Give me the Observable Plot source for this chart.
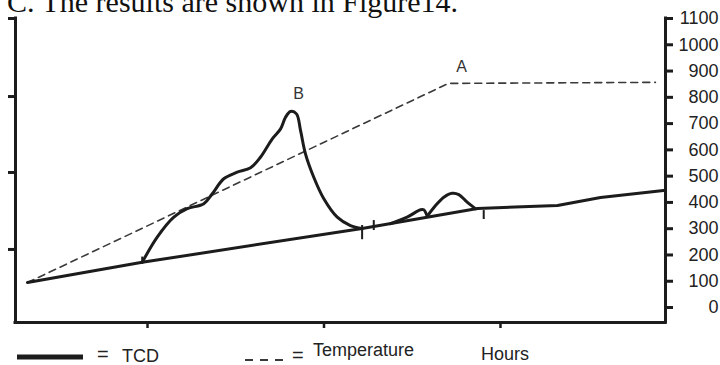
<!DOCTYPE html>
<html>
<head>
<meta charset="utf-8">
<script src="https://cdn.jsdelivr.net/npm/d3@7"></script>
<script src="https://cdn.jsdelivr.net/npm/@observablehq/plot@0.6"></script>
<style>
  body { margin: 0; background: #fff; }
  #chart { width: 720px; height: 365px; overflow: hidden; }
</style>
</head>
<body>
<div id="chart"></div>
<script>
// Axis settings
const hoursDomain = [0.252, 3.935];
const valueDomain = [-57, 1100];
const hourTicks = [1, 2, 3];
const rightTicks = [0, 100, 200, 300, 400, 500, 600, 700, 800, 900, 1000, 1100];
const leftTicks = [221, 514, 803, 1100];

// Temperature programme (dashed)
const tempHours = [0.320, 2.705, 3.878];
const tempValues = [95, 853, 857];

// TCD baseline (solid)
const baseHours = [0.320, 0.970, 2.216, 2.870, 3.323, 3.567, 3.924];
const baseValues = [95, 172, 301, 377, 388, 419, 445];

// Main TCD peak B
const peakHours = [0.970, 1.055, 1.149, 1.225, 1.319, 1.367, 1.432, 1.508, 1.584, 1.640, 1.707,
                   1.754, 1.782, 1.810, 1.844, 1.867, 1.895, 1.942, 1.999, 2.075, 2.150, 2.216];
const peakValues = [172, 268, 344, 376, 395, 433, 490, 515, 532, 572, 642,
                    680, 724, 746, 737, 674, 585, 496, 414, 344, 312, 301];

// Small TCD peaks after the main one
const bumpHours = [2.377, 2.471, 2.547, 2.565, 2.585,
                   2.585, 2.632, 2.679, 2.726, 2.764, 2.811, 2.858];
const bumpValues = [319, 344, 372, 372, 347,
                    347, 388, 420, 435, 430, 401, 376];
const bumpGroup = [1, 1, 1, 1, 1, 2, 2, 2, 2, 2, 2, 2];

// Short markers on the baseline
const markHours = [0.970, 2.216, 2.282, 2.905];
const markLow = [168, 258, 293, 335];
const markHigh = [192, 312, 331, 369];

// Point labels
const labelText = ["A", "B"];
const labelHours = [2.779, 1.856];
const labelValues = [914, 815];

const ink = "#1c1c1c";

const temp = tempHours.map((h, i) => ({h, v: tempValues[i]}));
const base = baseHours.map((h, i) => ({h, v: baseValues[i]}));
const peak = peakHours.map((h, i) => ({h, v: peakValues[i]}));
const bumps = bumpHours.map((h, i) => ({h, v: bumpValues[i], g: bumpGroup[i]}));
const marks = markHours.map((h, i) => ({h, lo: markLow[i], hi: markHigh[i]}));
const labels = labelText.map((t, i) => ({t, h: labelHours[i], v: labelValues[i]}));

const chart = Plot.plot({
  width: 720,
  height: 365,
  marginLeft: 15,
  marginRight: 55,
  marginTop: 18,
  marginBottom: 43,
  x: {domain: hoursDomain, label: null},
  y: {domain: valueDomain, label: null},
  style: {fontFamily: "'Liberation Sans', Arial, sans-serif", fontSize: "18px", color: "#222", background: "#fff"},
  marks: [
    // frame: left, right and bottom lines
    Plot.ruleX(hoursDomain, {stroke: ink, strokeWidth: 3, strokeLinecap: "square"}),
    Plot.ruleY([valueDomain[0]], {stroke: ink, strokeWidth: 3, strokeLinecap: "square"}),
    Plot.axisX({ticks: hourTicks, tickSize: 6, tickFormat: () => "", stroke: ink, strokeWidth: 2.5, label: null}),
    Plot.axisY({anchor: "left", ticks: leftTicks, tickSize: 7, tickFormat: () => "", stroke: ink, strokeWidth: 3, label: null}),
    Plot.axisY({anchor: "right", ticks: rightTicks, tickSize: 7, tickFormat: () => "", stroke: ink, strokeWidth: 3, label: null}),
    Plot.text(rightTicks, {y: d => d, text: d => String(d), frameAnchor: "right", dx: 53, textAnchor: "end", fontSize: 18, fill: "#222"}),
    // temperature programme
    Plot.line(temp, {x: "h", y: "v", stroke: "#3a3a3a", strokeWidth: 1.6, strokeDasharray: "7,5"}),
    // TCD signal
    Plot.line(base, {x: "h", y: "v", stroke: ink, strokeWidth: 3, strokeLinejoin: "round"}),
    Plot.line(peak, {x: "h", y: "v", stroke: ink, strokeWidth: 3, curve: "catmull-rom"}),
    Plot.line(bumps, {x: "h", y: "v", z: "g", stroke: ink, strokeWidth: 3, curve: "catmull-rom"}),
    Plot.ruleX(marks, {x: "h", y1: "lo", y2: "hi", stroke: ink, strokeWidth: 2}),
    Plot.text(labels, {x: "h", y: "v", text: "t", fontSize: 16, fill: "#333"})
  ]
});

// heading line above the plot and legend below it
const svg = d3.select(chart);
svg.append("text")
  .attr("x", 7).attr("y", 11.5)
  .attr("text-anchor", "start")
  .attr("font-family", "'Liberation Serif', 'Times New Roman', serif")
  .attr("font-size", 30).attr("fill", "#111")
  .text("C. The results are shown in Figure14.");

const legend = svg.append("g")
  .attr("text-anchor", "start")
  .attr("font-family", "'Liberation Sans', Arial, sans-serif")
  .attr("fill", "#222");
legend.append("line").attr("x1", 17).attr("x2", 83).attr("y1", 357).attr("y2", 357)
  .attr("stroke", ink).attr("stroke-width", 5);
legend.append("text").attr("x", 97).attr("y", 361).attr("font-size", 20).text("=");
legend.append("text").attr("x", 122).attr("y", 362).attr("font-size", 18).text("TCD");
legend.append("line").attr("x1", 245).attr("x2", 283).attr("y1", 360).attr("y2", 360)
  .attr("stroke", "#3a3a3a").attr("stroke-width", 2).attr("stroke-dasharray", "8,7");
legend.append("text").attr("x", 292).attr("y", 362).attr("font-size", 20).text("=");
legend.append("text").attr("x", 313).attr("y", 356).attr("font-size", 18).text("Temperature");
legend.append("text").attr("x", 481).attr("y", 360).attr("font-size", 18).text("Hours");

document.getElementById("chart").appendChild(chart);
</script>
</body>
</html>
